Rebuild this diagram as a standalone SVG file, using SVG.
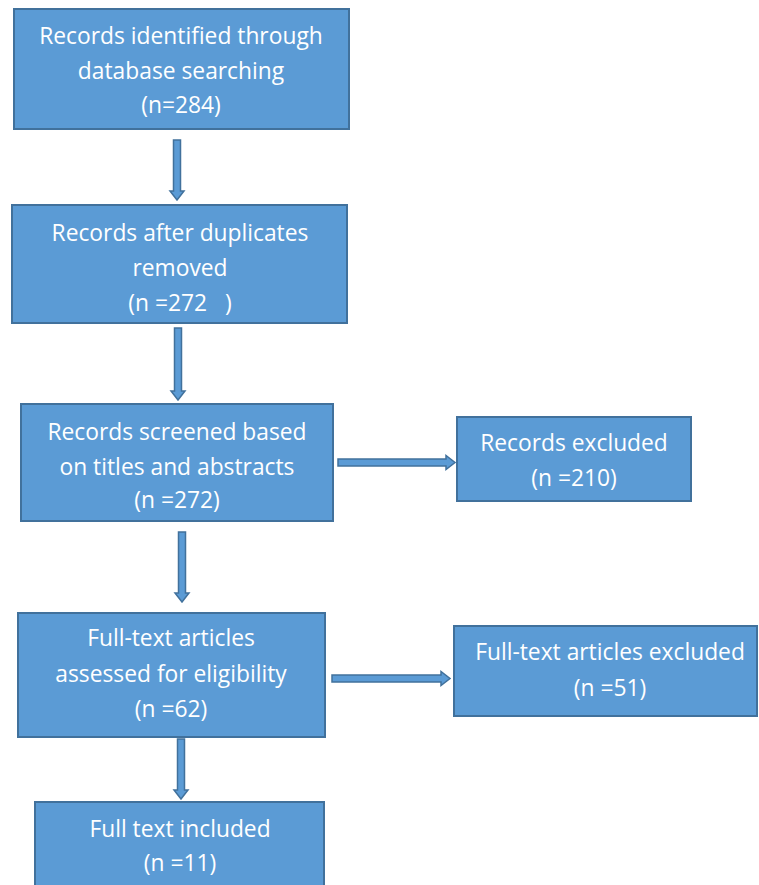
<svg xmlns="http://www.w3.org/2000/svg" width="759" height="885" viewBox="0 0 759 885">
<style>
.box{fill:#5B9BD5;stroke:#41719C;stroke-width:2}
.arr{fill:#5B9BD5;stroke:#41719C;stroke-width:1.5;stroke-linejoin:miter}
text{font-family:"Open Sans","Liberation Sans",sans-serif;font-size:22.8px;fill:#FFFFFF;text-anchor:middle}
</style>
<rect width="759" height="885" fill="#FFFFFF"/>
<g id="connectors">
<polygon class="arr" points="173.5,140 180.5,140 180.5,191 184,191 177,200 170,191 173.5,191"/>
<polygon class="arr" points="174.5,328 181.5,328 181.5,391 185,391 178,400 171,391 174.5,391"/>
<polygon class="arr" points="178.5,532 185.5,532 185.5,593 189,593 182,602 175,593 178.5,593"/>
<polygon class="arr" points="177.5,739 184.5,739 184.5,790 188,790 181,799 174,790 177.5,790"/>
<polygon class="arr" points="338,459 446,459 446,455.5 455,462.5 446,469.5 446,466 338,466"/>
<polygon class="arr" points="332,675 441,675 441,671.5 450,678.5 441,685.5 441,682 332,682"/>
</g>
<g id="n1"><rect class="box" x="14" y="9" width="335" height="120"/>
<text x="181" y="44">Records identified through</text><text x="181" y="79">database searching</text><text x="181" y="113">(n=284)</text></g>
<g id="n2"><rect class="box" x="12" y="205" width="335" height="118"/>
<text x="180" y="241">Records after duplicates</text><text x="180" y="276">removed</text><text x="180" y="311" xml:space="preserve">(n =272   )</text></g>
<g id="n3"><rect class="box" x="21" y="404" width="312" height="117"/>
<text x="177" y="440">Records screened based</text><text x="177" y="475">on titles and abstracts</text><text x="177" y="508">(n =272)</text></g>
<g id="n4"><rect class="box" x="457" y="417" width="234" height="84"/>
<text x="574" y="451">Records excluded</text><text x="574" y="486">(n =210)</text></g>
<g id="n5"><rect class="box" x="18" y="613" width="307" height="124"/>
<text x="171" y="646">Full-text articles</text><text x="171" y="682">assessed for eligibility</text><text x="171" y="717">(n =62)</text></g>
<g id="n6"><rect class="box" x="454" y="626" width="303" height="90"/>
<text x="610" y="660">Full-text articles excluded</text><text x="610" y="696">(n =51)</text></g>
<g id="n7"><rect class="box" x="35" y="802" width="289" height="90"/>
<text x="180" y="837">Full text included</text><text x="180" y="871">(n =11)</text></g>
</svg>
